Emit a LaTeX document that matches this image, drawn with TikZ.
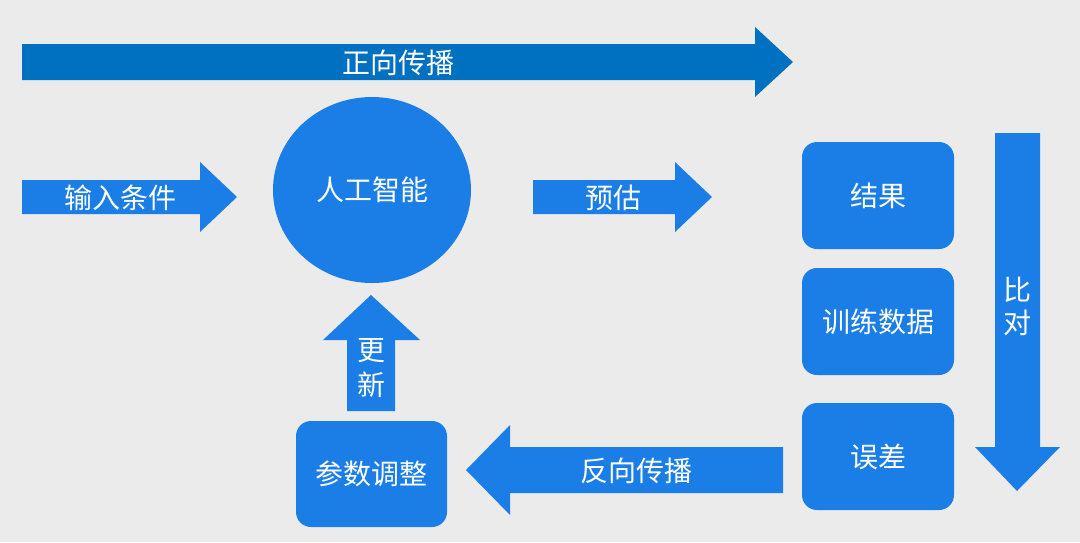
\documentclass[tikz,border=0pt]{standalone}
\usepackage{fontspec}
\setmainfont{Noto Sans CJK SC}
\usetikzlibrary{shapes.geometric}
\definecolor{bg}{HTML}{EBEBEB}
\definecolor{blueA}{HTML}{1A7EE6}
\definecolor{blueB}{HTML}{0070C0}
\tikzset{
  blk/.style={fill=blueA, draw=none},
  lbl/.style={text=white, font=\fontsize{28}{32}\selectfont, inner sep=0pt},
  rbox/.style={fill=blueA, draw=none, rounded corners=15pt, minimum width=152pt, minimum height=107pt, text=white, font=\fontsize{28}{32}\selectfont},
}
\begin{document}
\begin{tikzpicture}[x=1pt,y=-1pt]
\fill[bg] (0,0) rectangle (1080,542);
\useasboundingbox (0,0) rectangle (1080,542);
% forward propagation
\fill[blueB] (22,44) -- (755,44) -- (755,27) -- (793,62) -- (755,97) -- (755,80) -- (22,80) -- cycle;
\node[lbl] (fwd) at (398,63) {正向传播};
% input
\fill[blk] (22,180) -- (200,180) -- (200,162) -- (237,197) -- (200,232) -- (200,214) -- (22,214) -- cycle;
\node[lbl] (inp) at (120,198) {输入条件};
% AI circle
\node[ellipse, fill=blueA, minimum width=198pt, minimum height=186pt, text=white, font=\fontsize{28}{32}\selectfont] (ai) at (372,190) {人工智能};
% estimate
\fill[blk] (533,180) -- (675,180) -- (675,162) -- (712,197) -- (675,232) -- (675,214) -- (533,214) -- cycle;
\node[lbl] (est) at (613,198) {预估};
% boxes
\node[rbox] (res) at (878,195.5) {结果};
\node[rbox] (train) at (878,321.5) {训练数据};
\node[rbox] (err) at (878,456.5) {误差};
% compare arrow
\fill[blk] (995,133) -- (1040,133) -- (1040,447) -- (1060,447) -- (1017,491) -- (975,447) -- (995,447) -- cycle;
\node[lbl] (cmp1) at (1017,290) {比};
\node[lbl] (cmp2) at (1017,323) {对};
% back propagation
\fill[blk] (783,447) -- (510,447) -- (510,425) -- (466,470) -- (510,515) -- (510,493) -- (783,493) -- cycle;
\node[lbl] (bwd) at (636,471) {反向传播};
% parameter box
\node[rbox, minimum width=151pt, minimum height=106pt] (par) at (371.5,474) {参数调整};
% update arrow
\fill[blk] (347,411) -- (347,340) -- (323,340) -- (371,295) -- (420,340) -- (395,340) -- (395,411) -- cycle;
\node[lbl] (up1) at (371,351) {更};
\node[lbl] (up2) at (371,385) {新};
\end{tikzpicture}
\end{document}
